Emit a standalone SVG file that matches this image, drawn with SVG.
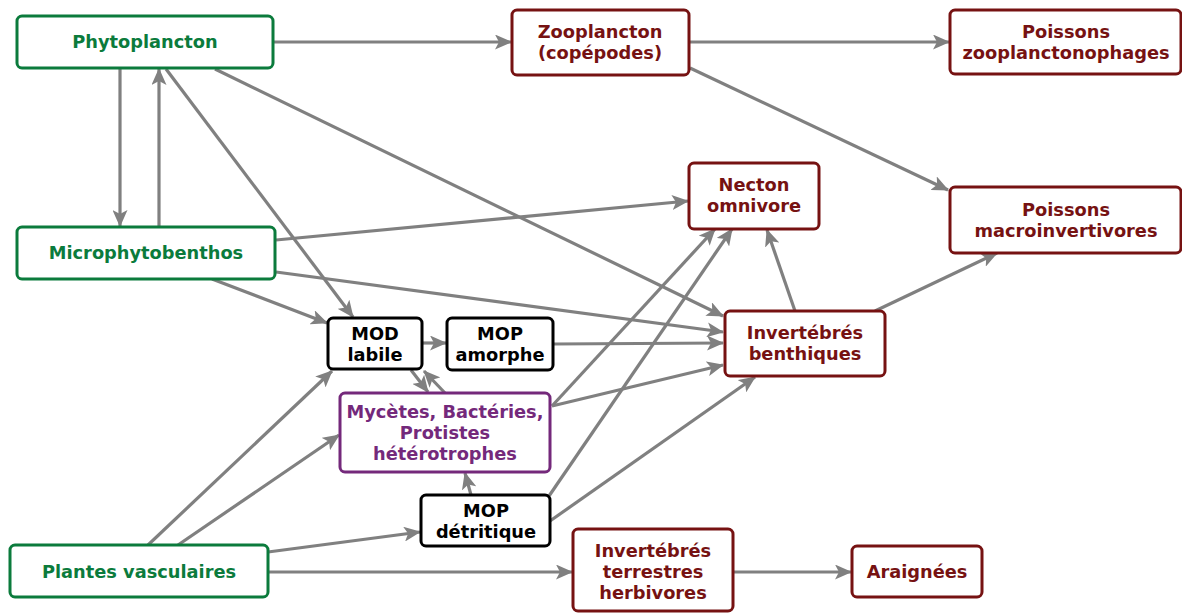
<svg xmlns="http://www.w3.org/2000/svg" width="1182" height="613" viewBox="0 0 1182 613">
<style>
.box{fill:#fff;stroke-width:3}
.g{stroke:#0b7b3c}
.r{stroke:#761212}
.k{stroke:#000}
.p{stroke:#74297b}
text{font-family:"DejaVu Sans",Verdana,sans-serif;font-weight:bold;font-size:17.8px;text-anchor:middle}
.tg{fill:#0b7b3c}
.tr{fill:#761212}
.tk{fill:#000}
.tp{fill:#74297b}
#connectors line{stroke:#808080;stroke-width:3.2;marker-end:url(#ah)}
</style>
<defs>
<marker id="ah" markerUnits="userSpaceOnUse" markerWidth="17" markerHeight="15" refX="16" refY="7.5" orient="auto" viewBox="0 0 17 15">
<path d="M0,0 L17,7.5 L0,15 L4,7.5 z" fill="#808080"/>
</marker>
</defs>
<rect width="1182" height="613" fill="#fff"/>
<g id="connectors">
<line x1="274" y1="42" x2="511" y2="42"/>
<line x1="690" y1="42" x2="949" y2="42"/>
<line x1="690" y1="68" x2="948" y2="190"/>
<line x1="120" y1="69" x2="120" y2="226"/>
<line x1="159" y1="226" x2="159" y2="69"/>
<line x1="166" y1="69" x2="353" y2="317"/>
<line x1="215" y1="69" x2="723" y2="316"/>
<line x1="276" y1="240" x2="688" y2="201"/>
<line x1="276" y1="272" x2="723" y2="332"/>
<line x1="212" y1="279" x2="327" y2="323"/>
<line x1="423" y1="343" x2="446" y2="343"/>
<line x1="554" y1="344" x2="723" y2="343"/>
<line x1="411" y1="370" x2="428" y2="392"/>
<line x1="445" y1="393" x2="424" y2="371"/>
<line x1="552" y1="406" x2="723" y2="365"/>
<line x1="552" y1="406" x2="715" y2="229"/>
<line x1="549" y1="496" x2="732" y2="229"/>
<line x1="471" y1="495" x2="465" y2="473"/>
<line x1="550" y1="521" x2="755" y2="377"/>
<line x1="795" y1="311" x2="767" y2="230"/>
<line x1="875" y1="311" x2="997" y2="253"/>
<line x1="148" y1="545" x2="332" y2="371"/>
<line x1="178" y1="545" x2="339" y2="435"/>
<line x1="268" y1="552" x2="420" y2="532"/>
<line x1="268" y1="572" x2="572" y2="572"/>
<line x1="734" y1="572" x2="851" y2="572"/>
</g>
<g id="phytoplancton"><rect class="box g" x="17" y="16" width="256" height="52" rx="5"/><text class="tg" x="145" y="48">Phytoplancton</text></g>
<g id="microphytobenthos"><rect class="box g" x="17" y="227" width="258" height="52" rx="5"/><text class="tg" x="146" y="259">Microphytobenthos</text></g>
<g id="plantes"><rect class="box g" x="10" y="545" width="258" height="52" rx="5"/><text class="tg" x="139" y="578">Plantes vasculaires</text></g>
<g id="zooplancton"><rect class="box r" x="512" y="10" width="177" height="65" rx="5"/><text class="tr" x="600" y="38">Zooplancton</text><text class="tr" x="600" y="59">(copépodes)</text></g>
<g id="poissons-zoo"><rect class="box r" x="950" y="10" width="231" height="64" rx="5"/><text class="tr" x="1066" y="38">Poissons</text><text class="tr" x="1066" y="59">zooplanctonophages</text></g>
<g id="necton"><rect class="box r" x="689" y="163" width="130" height="66" rx="5"/><text class="tr" x="754" y="191">Necton</text><text class="tr" x="754" y="212">omnivore</text></g>
<g id="poissons-macro"><rect class="box r" x="950" y="187" width="231" height="66" rx="5"/><text class="tr" x="1066" y="216">Poissons</text><text class="tr" x="1066" y="237">macroinvertivores</text></g>
<g id="invertebres-benthiques"><rect class="box r" x="725" y="311" width="160" height="65" rx="5"/><text class="tr" x="805" y="339">Invertébrés</text><text class="tr" x="805" y="360">benthiques</text></g>
<g id="mod-labile"><rect class="box k" x="328" y="318" width="94" height="51" rx="5"/><text class="tk" x="375" y="340">MOD</text><text class="tk" x="375" y="361">labile</text></g>
<g id="mop-amorphe"><rect class="box k" x="447" y="318" width="106" height="52" rx="5"/><text class="tk" x="500" y="340">MOP</text><text class="tk" x="500" y="361">amorphe</text></g>
<g id="mycetes"><rect class="box p" x="340" y="393" width="210" height="79" rx="5"/><text class="tp" x="445" y="418">Mycètes, Bactéries,</text><text class="tp" x="445" y="439">Protistes</text><text class="tp" x="445" y="460">hétérotrophes</text></g>
<g id="mop-detritique"><rect class="box k" x="421" y="495" width="129" height="51" rx="5"/><text class="tk" x="486" y="517">MOP</text><text class="tk" x="486" y="538">détritique</text></g>
<g id="invertebres-terrestres"><rect class="box r" x="573" y="529" width="160" height="82" rx="5"/><text class="tr" x="653" y="557">Invertébrés</text><text class="tr" x="653" y="578">terrestres</text><text class="tr" x="653" y="599">herbivores</text></g>
<g id="araignees"><rect class="box r" x="852" y="546" width="130" height="51" rx="5"/><text class="tr" x="917" y="578">Araignées</text></g>
</svg>
